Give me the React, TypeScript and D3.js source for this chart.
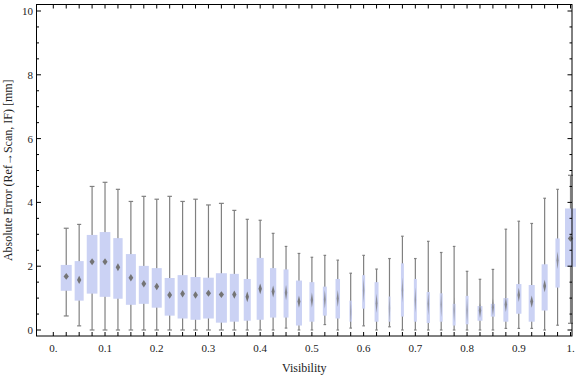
import React from "react";
import * as d3 from "d3";

const visibility = [0.025, 0.05, 0.075, 0.1, 0.125, 0.15, 0.175, 0.2, 0.225, 0.25, 0.275, 0.3, 0.325, 0.35, 0.375, 0.4, 0.425, 0.45, 0.475, 0.5, 0.525, 0.55, 0.575, 0.6, 0.625, 0.65, 0.675, 0.7, 0.725, 0.75, 0.775, 0.8, 0.825, 0.85, 0.875, 0.9, 0.925, 0.95, 0.975, 1.0];
const whiskerLow = [0.44, 0.13, 0, 0, 0, 0, 0, 0, 0, 0, 0, 0, 0, 0, 0, 0, 0, 0.06, 0, 0, 0.17, 0, 0.06, 0.13, 0, 0.1, 0, 0, 0, 0, 0, 0, 0, 0, 0.05, 0.05, 0.05, 0, 0.15, 0.21];
const q1 = [1.23, 0.92, 1.14, 1.04, 0.98, 0.79, 0.82, 0.7, 0.45, 0.36, 0.32, 0.36, 0.23, 0.26, 0.29, 0.32, 0.39, 0.39, 0.14, 0.26, 0.45, 0.36, 0.26, 0.67, 0.26, 0.26, 0.42, 0.26, 0.22, 0.26, 0.14, 0.18, 0.29, 0.42, 0.26, 0.51, 0.26, 0.61, 1.33, 1.98];
const median = [1.68, 1.57, 2.14, 2.14, 1.97, 1.64, 1.45, 1.36, 1.1, 1.14, 1.1, 1.15, 1.11, 1.11, 1.04, 1.29, 1.21, 1.17, 0.89, 0.94, 0.96, 0.99, 0.57, 1.25, 0.84, 0.68, 1.25, 0.94, 0.82, 0.8, 0.63, 0.6, 0.61, 0.71, 0.8, 1.1, 0.89, 1.38, 2.19, 2.87];
const q3 = [2.04, 2.16, 2.98, 3.07, 2.88, 2.38, 2.01, 1.94, 1.63, 1.72, 1.66, 1.64, 1.78, 1.76, 1.6, 2.26, 1.94, 1.9, 1.55, 1.5, 1.36, 1.6, 0.92, 1.72, 1.5, 1.05, 2.09, 1.6, 1.19, 1.15, 0.82, 1.07, 0.75, 0.82, 1.0, 1.44, 1.41, 2.06, 2.87, 3.81];
const whiskerHigh = [3.19, 3.31, 4.5, 4.63, 4.41, 4.03, 4.19, 4.1, 4.19, 4.03, 4.1, 3.92, 3.97, 3.75, 3.47, 3.44, 3.03, 2.62, 2.4, 2.28, 2.34, 2.19, 1.78, 2.34, 1.91, 2.24, 2.94, 2.24, 2.78, 2.43, 2.62, 1.84, 1.59, 1.9, 3.16, 3.41, 3.34, 4.13, 4.41, 4.85];
// relative sample weight (box width relative to the widest box)
const weights = [1.0, 0.82, 0.97, 0.97, 0.85, 0.91, 0.91, 0.91, 0.91, 0.91, 0.91, 0.97, 1.0, 0.82, 0.64, 0.64, 0.57, 0.45, 0.55, 0.45, 0.36, 0.41, 0.23, 0.27, 0.36, 0.18, 0.27, 0.27, 0.3, 0.27, 0.27, 0.27, 0.45, 0.39, 0.45, 0.48, 0.55, 0.55, 0.39, 1.0];

const xTicks = [0, 0.1, 0.2, 0.3, 0.4, 0.5, 0.6, 0.7, 0.8, 0.9, 1.0];
const xTickLabels = ["0.", "0.1", "0.2", "0.3", "0.4", "0.5", "0.6", "0.7", "0.8", "0.9", "1."];
const yTicks = [0, 2, 4, 6, 8, 10];

export default function App() {
  const W = 576, H = 377;
  const frame = { left: 36.5, right: 572, top: 4.5, bottom: 336 };
  const x = d3.scaleLinear().domain([0, 1]).range([53.3, 570.5]);
  const y = d3.scaleLinear().domain([0, 10]).range([330, 11]);
  const maxBox = 11;
  const font = "'Liberation Serif', 'Times New Roman', serif";

  const minorX = [0, ...visibility];
  const minorY = d3.range(0, 10.01, 0.5);

  const boxes = visibility.map((v, i) => {
    const cx = x(v);
    const w = weights[i] * maxBox;
    const capW = Math.max(2.6, 0.45 * w);
    const dW = Math.max(1.4, 0.48 * w);
    const dH = Math.min(30, 75 / w);
    const my = y(median[i]);
    const op = Math.min(1, 0.25 + w / 9);
    return (
      <g key={i}>
        <line x1={cx} x2={cx} y1={y(whiskerLow[i])} y2={y(whiskerHigh[i])} stroke="#808080" strokeWidth={1.2} />
        <line x1={cx - capW / 2} x2={cx + capW / 2} y1={y(whiskerHigh[i])} y2={y(whiskerHigh[i])} stroke="#808080" strokeWidth={1.2} />
        <line x1={cx - capW / 2} x2={cx + capW / 2} y1={y(whiskerLow[i])} y2={y(whiskerLow[i])} stroke="#808080" strokeWidth={1.2} />
        <rect x={cx - w / 2} width={w} y={y(q3[i])} height={y(q1[i]) - y(q3[i])} fill="#cbd2f4" />
        <path
          d={`M${cx},${my - dH / 2}L${cx + dW / 2},${my}L${cx},${my + dH / 2}L${cx - dW / 2},${my}Z`}
          fill="#747474"
          fillOpacity={op}
        />
      </g>
    );
  });

  return (
    <svg width={W} height={H} style={{ position: "absolute", left: 0, top: 0, background: "#fff" }}>
      {boxes}
      <rect x={frame.left} y={frame.top} width={frame.right - frame.left} height={frame.bottom - frame.top} fill="none" stroke="#000" strokeWidth={1} />
      {minorX.map((v, i) => (
        <g key={"xt" + i}>
          <line x1={x(v)} x2={x(v)} y1={frame.bottom} y2={frame.bottom - 4} stroke="#000" />
          <line x1={x(v)} x2={x(v)} y1={frame.top} y2={frame.top + 4} stroke="#000" />
        </g>
      ))}
      {minorY.map((v, i) => {
        const major = Math.abs(v % 2) < 1e-6;
        const len = major ? 4.5 : 2.5;
        return (
          <g key={"yt" + i}>
            <line x1={frame.left} x2={frame.left + len} y1={y(v)} y2={y(v)} stroke="#000" />
            <line x1={frame.right} x2={frame.right - len} y1={y(v)} y2={y(v)} stroke="#000" />
          </g>
        );
      })}
      {xTicks.map((v, i) => (
        <text key={"xl" + i} x={x(v)} y={352} textAnchor="middle" fontFamily={font} fontSize={11} fill="#222">
          {xTickLabels[i]}
        </text>
      ))}
      {yTicks.map((v) => (
        <text key={"yl" + v} x={33} y={y(v) + 4} textAnchor="end" fontFamily={font} fontSize={11} fill="#222">
          {v}
        </text>
      ))}
      <text x={(frame.left + frame.right) / 2} y={372} textAnchor="middle" fontFamily={font} fontSize={12} fill="#222">
        Visibility
      </text>
      <text
        transform={`translate(12,${(frame.top + frame.bottom) / 2}) rotate(-90)`}
        textAnchor="middle"
        fontFamily={font}
        fontSize={12}
        fill="#222"
      >
        Absolute Error (Ref→Scan, IF) [mm]
      </text>
    </svg>
  );
}
